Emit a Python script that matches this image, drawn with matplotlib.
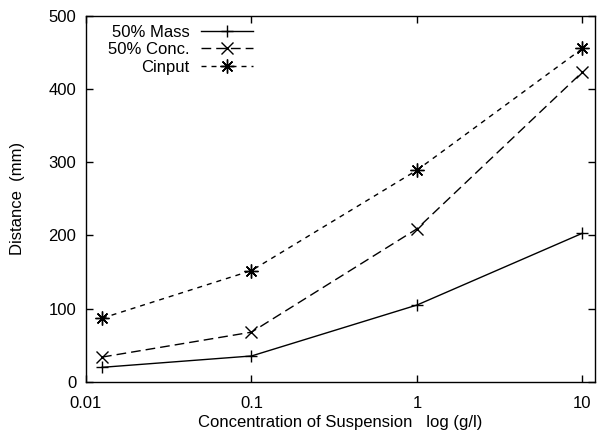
import matplotlib
matplotlib.use("Agg")
import matplotlib.pyplot as plt

plt.rcParams['font.family'] = ['Liberation Sans', 'DejaVu Sans']
plt.rcParams['font.size'] = 12

# data
conc = [0.0125, 0.1, 1, 10]
mass_50 = [20, 35.5, 105, 203]
conc_50 = [34, 68, 209, 423]
cinput = [87, 152, 289, 455]

xticks = [0.01, 0.1, 1, 10]
xticklabels = ["0.01", "0.1", "1", "10"]
yticks = [0, 100, 200, 300, 400, 500]

fig = plt.figure(figsize=(5.97, 4.37), dpi=100)
ax = fig.add_axes([86 / 597, 1 - 382 / 437, (595 - 86) / 597, (382 - 15.5) / 437])

ax.plot(conc, mass_50, color='black', lw=1.0, marker='+', ms=9, mew=1.0,
        label="50% Mass")
ax.plot(conc, conc_50, color='black', lw=1.0, ls=(0, (7, 3.6)), marker='x',
        ms=8, mew=1.0, label="50% Conc.")
ax.plot(conc, cinput, color='black', lw=1.0, ls=(0, (3.6, 3.6)),
        marker=(8, 2, 0), ms=10, mew=1.0, label="Cinput")

ax.set_xscale('log')
ax.set_xlim(0.01, 11.9)
ax.set_ylim(0, 500)
ax.set_xticks(xticks)
ax.set_xticklabels(xticklabels)
ax.minorticks_off()
ax.set_yticks(yticks)
ax.tick_params(direction='in', length=5, width=1, top=True, right=True,
               labelsize=12)
ax.tick_params(axis='x', pad=10)
ax.tick_params(axis='y', pad=7)
for s in ax.spines.values():
    s.set_linewidth(1.0)

ax.set_xlabel("Concentration of Suspension   log (g/l)", fontsize=12, labelpad=3)
ax.set_ylabel("Distance  (mm)", fontsize=12, labelpad=17)

# gnuplot style key: label right-aligned, sample to its right
leg = ax.legend(loc='upper left', bbox_to_anchor=(0.043, 0.975), frameon=False,
                markerfirst=False, numpoints=1, handlelength=3.1,
                handletextpad=0.7, labelspacing=0.15, borderpad=0.0,
                borderaxespad=0.0, fontsize=12)

fig.savefig("out.png", dpi=100)
